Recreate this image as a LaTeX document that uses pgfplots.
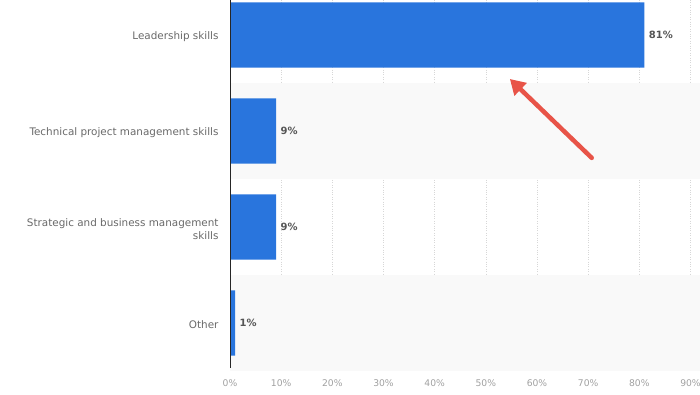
\documentclass[border=0pt]{standalone}
\usepackage{pgfplots}
\pgfplotsset{compat=1.18}
\usepackage{fontspec}
\setmainfont{DejaVu Sans}
\usetikzlibrary{arrows.meta}
\definecolor{barblue}{RGB}{41,117,221}
\definecolor{bandgray}{RGB}{249,249,249}
\definecolor{gridgray}{RGB}{215,215,215}
\definecolor{ticklab}{RGB}{160,160,160}
\definecolor{catlab}{RGB}{105,105,105}
\definecolor{vallab}{RGB}{85,85,85}
\definecolor{arrowred}{RGB}{232,84,72}
\begin{document}
\begin{tikzpicture}
\begin{axis}[
  set layers,
  scale only axis,
  width=460.5pt, height=371pt,
  xbar, bar width=0.68,
  xmin=0, xmax=90,
  ymin=-0.365, ymax=3.5,
  y dir=reverse,
  clip=false,
  axis line style={draw=none},
  xtick={0,10,...,90},
  xticklabel={\pgfmathprintnumber{\tick}\%},
  /pgf/number format/assume math mode=true,
  xticklabel style={font=\fontsize{9.2}{11}\selectfont, text=ticklab, yshift=-5pt},
  ytick={0,1,2,3},
  yticklabels={Leadership skills, Technical project management skills, {Strategic and business management\\skills}, Other},
  yticklabel style={font=\fontsize{10.4}{13.5}\selectfont, text=catlab, align=right, xshift=-8pt, yshift=-2pt},
  major tick length=0pt,
  xmajorgrids,
  grid style={gridgray, dotted, line width=0.6pt},
  nodes near coords={\pgfmathprintnumber{\pgfplotspointmeta}\%},
  nodes near coords style={font=\bfseries\fontsize{10}{12}\selectfont, text=vallab, anchor=west, xshift=1pt},
  point meta=x,
]
\fill[bandgray, on layer=axis background] (axis cs:0,0.5) rectangle (axis cs:91.85,1.5);
\fill[bandgray, on layer=axis background] (axis cs:0,2.5) rectangle (axis cs:91.85,3.5);
\addplot[fill=barblue, draw=none] coordinates {(81,0) (9,1) (9,2) (1,3)};
\draw[black!85, line width=0.8pt] (axis cs:0,-0.365) -- (axis cs:0,3.47);
\draw[arrowred, line width=4.5pt, line cap=round, -{Triangle[length=15pt,width=17pt]}] (axis cs:70.7,1.28) -- (axis cs:54.7,0.458);
\end{axis}
\pgfresetboundingbox
\path[use as bounding box] (-230pt,-23pt) rectangle (470pt,371pt);
\end{tikzpicture}
\end{document}
